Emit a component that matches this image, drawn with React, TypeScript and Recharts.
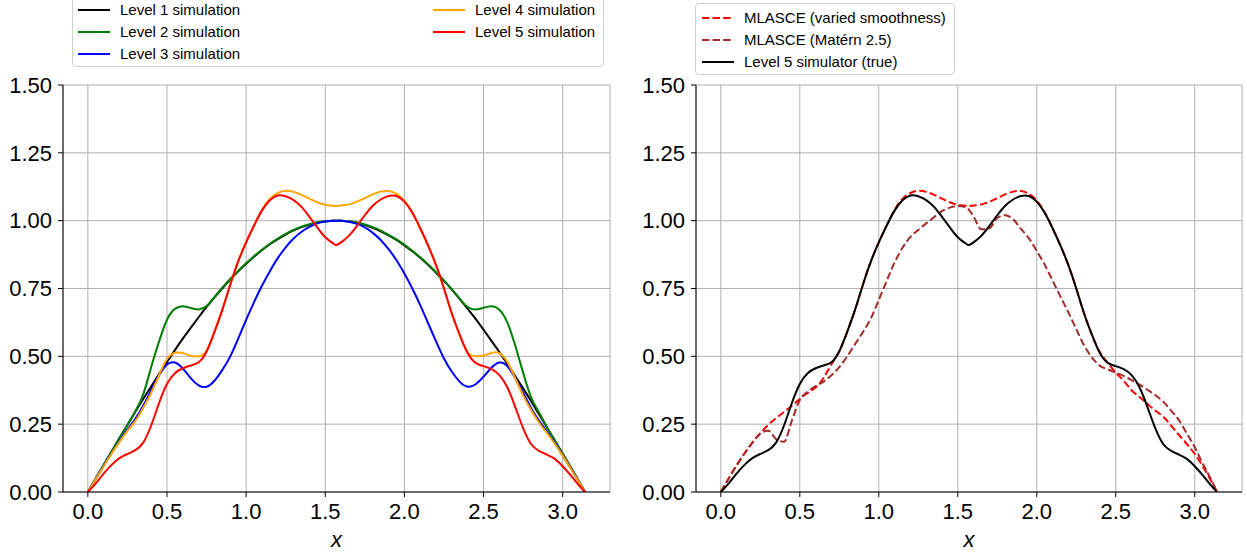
import React from "react";
import { CartesianGrid, Line, LineChart, XAxis, YAxis } from "recharts";

const FONT = "'Liberation Sans', Arial, Helvetica, sans-serif";

// sample positions along x (0 .. pi)
const xValues = [
  0, 0.05, 0.1, 0.15, 0.2, 0.25, 0.3, 0.35, 0.4, 0.45, 0.5, 0.55, 0.6, 0.65, 0.7, 0.75,
  0.8, 0.85, 0.9, 0.95, 1.0, 1.05, 1.1, 1.15, 1.2, 1.25, 1.3, 1.35, 1.4, 1.45, 1.5, 1.55,
  1.5708,
  1.6, 1.65, 1.7, 1.75, 1.8, 1.85, 1.9, 1.95, 2.0, 2.05, 2.1, 2.15, 2.2, 2.25, 2.3, 2.35,
  2.4, 2.45, 2.5, 2.55, 2.6, 2.65, 2.7, 2.75, 2.8, 2.85, 2.9, 2.95, 3.0, 3.05, 3.1,
  3.1416,
];

const level1 = [
  0, 0.05, 0.0998, 0.149, 0.199, 0.247, 0.296, 0.343, 0.389, 0.435, 0.479, 0.523, 0.565, 0.605, 0.644, 0.682,
  0.717, 0.751, 0.783, 0.813, 0.841, 0.867, 0.891, 0.913, 0.932, 0.949, 0.964, 0.976, 0.985, 0.993, 0.997, 0.9998,
  1.0,
  0.9996, 0.997, 0.992, 0.984, 0.974, 0.961, 0.946, 0.929, 0.909, 0.887, 0.863, 0.837, 0.808, 0.778, 0.746, 0.711,
  0.675, 0.638, 0.598, 0.557, 0.516, 0.472, 0.427, 0.382, 0.335, 0.287, 0.239, 0.19, 0.141, 0.0915, 0.0416,
  0,
];

const level2 = [
  0, 0.05, 0.1, 0.149, 0.199, 0.247, 0.298, 0.36, 0.46, 0.555, 0.635, 0.675, 0.685, 0.678, 0.673, 0.685,
  0.718, 0.753, 0.785, 0.815, 0.843, 0.869, 0.893, 0.915, 0.934, 0.951, 0.966, 0.978, 0.987, 0.994, 0.998, 1.0,
  1.0,
  1.0, 0.998, 0.993, 0.986, 0.976, 0.963, 0.948, 0.931, 0.911, 0.889, 0.865, 0.839, 0.81, 0.78, 0.747, 0.712,
  0.682, 0.673, 0.679, 0.685, 0.672, 0.625, 0.54, 0.44, 0.35, 0.294, 0.239, 0.19, 0.141, 0.092, 0.042,
  0,
];

const level3 = [
  0, 0.049, 0.097, 0.143, 0.188, 0.23, 0.27, 0.318, 0.375, 0.43, 0.47, 0.477, 0.455, 0.42, 0.393, 0.388,
  0.41, 0.45, 0.5, 0.565, 0.634, 0.7, 0.76, 0.814, 0.862, 0.902, 0.934, 0.959, 0.977, 0.99, 0.997, 1.0,
  1.0,
  1.0, 0.996, 0.988, 0.975, 0.955, 0.929, 0.895, 0.854, 0.805, 0.75, 0.689, 0.622, 0.555, 0.492, 0.443, 0.406,
  0.388, 0.397, 0.425, 0.458, 0.477, 0.464, 0.42, 0.366, 0.31, 0.263, 0.223, 0.181, 0.135, 0.089, 0.041,
  0,
];

const level4 = [
  0, 0.048, 0.095, 0.142, 0.185, 0.225, 0.262, 0.31, 0.365, 0.43, 0.49, 0.513, 0.512, 0.502, 0.5, 0.52,
  0.59, 0.672, 0.765, 0.85, 0.92, 0.982, 1.04, 1.08, 1.102, 1.11, 1.106, 1.095, 1.081, 1.068, 1.059, 1.055,
  1.054,
  1.056, 1.06, 1.07, 1.083, 1.097, 1.107, 1.109, 1.099, 1.074, 1.031, 0.972, 0.908, 0.836, 0.75, 0.657, 0.578,
  0.515, 0.5, 0.503, 0.512, 0.512, 0.48, 0.42, 0.356, 0.302, 0.256, 0.218, 0.178, 0.134, 0.087, 0.04,
  0,
];

const level5 = [
  0, 0.032, 0.068, 0.1, 0.125, 0.14, 0.154, 0.182, 0.245, 0.328, 0.398, 0.438, 0.456, 0.466, 0.478, 0.518,
  0.59, 0.672, 0.765, 0.85, 0.92, 0.982, 1.037, 1.075, 1.093, 1.09, 1.076, 1.051, 1.014, 0.975, 0.939, 0.916,
  0.91,
  0.92, 0.945, 0.981, 1.02, 1.055, 1.078, 1.091, 1.091, 1.07, 1.029, 0.972, 0.908, 0.836, 0.75, 0.657, 0.578,
  0.511, 0.476, 0.464, 0.453, 0.431, 0.386, 0.314, 0.235, 0.177, 0.152, 0.138, 0.122, 0.095, 0.062, 0.026,
  0,
];

const mlasceVaried = [
  0, 0.05, 0.098, 0.142, 0.182, 0.217, 0.247, 0.272, 0.295, 0.318, 0.343, 0.365, 0.385, 0.42, 0.47, 0.52,
  0.59, 0.672, 0.765, 0.85, 0.92, 0.982, 1.04, 1.08, 1.102, 1.11, 1.106, 1.095, 1.081, 1.068, 1.059, 1.055,
  1.054,
  1.056, 1.06, 1.07, 1.083, 1.097, 1.107, 1.109, 1.099, 1.074, 1.031, 0.972, 0.908, 0.836, 0.75, 0.657, 0.578,
  0.515, 0.475, 0.44, 0.41, 0.375, 0.35, 0.325, 0.3, 0.278, 0.245, 0.21, 0.177, 0.14, 0.095, 0.045,
  0,
];

const mlasceMatern = [
  0, 0.05, 0.098, 0.142, 0.182, 0.215, 0.226, 0.195, 0.185, 0.263, 0.339, 0.37, 0.39, 0.407, 0.43, 0.46,
  0.5, 0.545, 0.59, 0.64, 0.708, 0.778, 0.846, 0.9, 0.94, 0.966, 0.99, 1.013, 1.035, 1.048, 1.054, 1.05,
  1.04,
  1.015, 0.968, 0.972, 1.01, 1.02, 1.005, 0.97, 0.935, 0.888, 0.838, 0.779, 0.72, 0.662, 0.6, 0.54, 0.495,
  0.465, 0.452, 0.44, 0.428, 0.412, 0.396, 0.377, 0.357, 0.333, 0.3, 0.265, 0.215, 0.165, 0.105, 0.05,
  0,
];

const xTicks = [0, 0.5, 1, 1.5, 2, 2.5, 3];
const yTicks = [0, 0.25, 0.5, 0.75, 1, 1.25, 1.5];

const data = xValues.map((x, i) => ({
  x,
  level1: level1[i],
  level2: level2[i],
  level3: level3[i],
  level4: level4[i],
  level5: level5[i],
  varied: mlasceVaried[i],
  matern: mlasceMatern[i],
}));

const X_DOMAIN: [number, number] = [-0.157, 3.299];
const DASH = "7.4 3.2";

interface LegendItem {
  label: string;
  color: string;
  dashed?: boolean;
  x: number;
  y: number;
}

const leftLegend: LegendItem[] = [
  { label: "Level 1 simulation", color: "#000000", x: 5, y: 14 },
  { label: "Level 2 simulation", color: "#008000", x: 5, y: 36 },
  { label: "Level 3 simulation", color: "#0000ff", x: 5, y: 58 },
  { label: "Level 4 simulation", color: "#ffa500", x: 360, y: 14 },
  { label: "Level 5 simulation", color: "#ff0000", x: 360, y: 36 },
];

const rightLegend: LegendItem[] = [
  { label: "MLASCE (varied smoothness)", color: "#ff0000", dashed: true, x: 6, y: 13.5 },
  { label: "MLASCE (Matérn 2.5)", color: "#a52a2a", dashed: true, x: 6, y: 35.5 },
  { label: "Level 5 simulator (true)", color: "#000000", x: 6, y: 57.5 },
];

const LegendBox = ({ left, top, width, height, items }: { left: number; top: number; width: number; height: number; items: LegendItem[] }) => (
  <div
    style={{
      position: "absolute",
      left,
      top,
      width,
      height,
      border: "1px solid #d0d0d0",
      borderRadius: 4,
      background: "rgba(255,255,255,0.8)",
      boxSizing: "border-box",
      fontFamily: FONT,
      fontSize: 15,
      color: "#000",
    }}
  >
    {items.map((it) => (
      <div key={it.label} style={{ position: "absolute", left: it.x, top: it.y - 9, height: 18, display: "flex", alignItems: "center", whiteSpace: "nowrap" }}>
        <svg width={32} height={6} style={{ display: "block" }}>
          <line x1={0} y1={3} x2={32} y2={3} stroke={it.color} strokeWidth={2} strokeDasharray={it.dashed ? DASH : undefined} />
        </svg>
        <span style={{ marginLeft: 10, lineHeight: "18px" }}>{it.label}</span>
      </div>
    ))}
  </div>
);

const tickStyle = { fill: "#000", fontSize: 22, fontFamily: FONT };

const Panel = ({ left, width, marginRight, children }: { left: number; width: number; marginRight: number; children: React.ReactNode }) => (
  <div style={{ position: "absolute", left, top: 0 }}>
    <LineChart width={width} height={554} data={data} margin={{ top: 85, right: marginRight, bottom: 0, left: 0 }}>
      <CartesianGrid stroke="#b0b0b0" strokeWidth={1} />
      <XAxis
        dataKey="x"
        type="number"
        domain={X_DOMAIN}
        allowDataOverflow
        ticks={xTicks}
        interval={0}
        tickFormatter={(v: number) => v.toFixed(1)}
        tick={tickStyle}
        tickSize={5}
        tickMargin={6}
        stroke="#000"
        height={62}
        label={{ value: "x", position: "insideBottom", offset: 7, style: { fontStyle: "italic", fontSize: 22, fill: "#000", fontFamily: FONT } }}
      />
      <XAxis xAxisId="top" orientation="top" dataKey="x" type="number" domain={X_DOMAIN} allowDataOverflow height={0} tick={false} tickLine={false} stroke="#000" />
      <YAxis
        type="number"
        domain={[0, 1.5]}
        allowDataOverflow
        ticks={yTicks}
        interval={0}
        tickFormatter={(v: number) => v.toFixed(2)}
        tick={tickStyle}
        tickSize={5}
        tickMargin={6}
        stroke="#000"
        width={63}
      />
      <YAxis yAxisId="right" orientation="right" type="number" domain={[0, 1.5]} width={0} tick={false} tickLine={false} stroke="#000" />
      {children}
    </LineChart>
  </div>
);

const line = (key: string, color: string, dashed = false, curve: "natural" | "monotone" = "natural") => (
  <Line
    key={key}
    dataKey={key}
    type={curve}
    stroke={color}
    strokeWidth={2}
    strokeDasharray={dashed ? DASH : undefined}
    dot={false}
    activeDot={false}
    isAnimationActive={false}
  />
);

export default function App() {
  return (
    <div style={{ position: "absolute", left: 0, top: 0, width: 1247, height: 554, background: "#fff", overflow: "hidden" }}>
      <Panel left={0} width={620} marginRight={10}>
        {line("level1", "#000000")}
        {line("level2", "#008000")}
        {line("level3", "#0000ff")}
        {line("level4", "#ffa500")}
        {line("level5", "#ff0000")}
      </Panel>
      <Panel left={633} width={614} marginRight={5}>
        {line("varied", "#ff0000", true)}
        {line("matern", "#a52a2a", true, "monotone")}
        {line("level5", "#000000")}
      </Panel>
      <LegendBox left={72} top={-5} width={532} height={72} items={leftLegend} />
      <LegendBox left={695} top={3} width={260} height={72} items={rightLegend} />
    </div>
  );
}
